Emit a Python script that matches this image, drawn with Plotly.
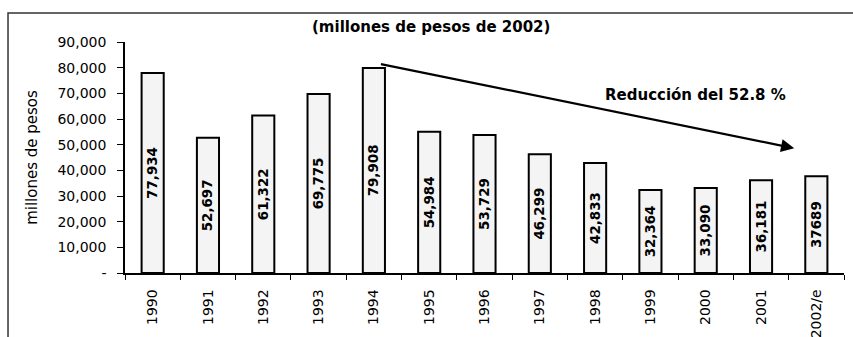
import plotly.graph_objects as go

# Annual spending, millions of 2002 pesos
years = ["1990", "1991", "1992", "1993", "1994", "1995", "1996",
         "1997", "1998", "1999", "2000", "2001", "2002/e"]
values = [77934, 52697, 61322, 69775, 79908, 54984, 53729,
          46299, 42833, 32364, 33090, 36181, 37689]
bar_labels = ["77,934", "52,697", "61,322", "69,775", "79,908", "54,984", "53,729",
              "46,299", "42,833", "32,364", "33,090", "36,181", "37689"]

y_ticks = [0, 10000, 20000, 30000, 40000, 50000, 60000, 70000, 80000, 90000]
y_tick_text = ["-", "10,000", "20,000", "30,000", "40,000", "50,000",
               "60,000", "70,000", "80,000", "90,000"]

FONT = "DejaVu Sans"

fig = go.Figure()
fig.add_trace(go.Bar(
    x=years, y=values,
    text=bar_labels,
    textposition="inside",
    insidetextanchor="middle",
    textangle=-90,
    textfont=dict(family=FONT, size=15, color="black", weight="bold"),
    marker=dict(color="#f4f4f4", line=dict(color="black", width=2)),
    width=0.4,
    cliponaxis=False,
))

# Arrow from the 1994 peak down toward the last year
fig.add_annotation(
    x=11.6, y=48600, ax=4.1, ay=values[4] * 1.02,
    xref="x", yref="y", axref="x", ayref="y",
    showarrow=True, arrowhead=2, arrowsize=1.2, arrowwidth=2.2,
    arrowcolor="black", text="",
)
fig.add_annotation(
    x=0.793, y=0.77, xref="paper", yref="paper",
    xanchor="center", yanchor="middle",
    text="<b>Reducción del 52.8 %</b>", showarrow=False,
    font=dict(family=FONT, size=15, color="black"),
)
fig.add_annotation(
    x=0.425, y=1.065, xref="paper", yref="paper",
    xanchor="center", yanchor="middle",
    text="<b>(millones de pesos de 2002)</b>", showarrow=False,
    font=dict(family=FONT, size=15, color="black"),
)

# Outer frame around the chart (right and bottom edges run past the page)
fig.add_shape(type="rect", xref="paper", yref="paper",
              x0=-0.1627, x1=1.2, y0=-0.35, y1=1.1257,
              line=dict(color="#333333", width=1.5), layer="below")

fig.update_layout(
    width=853, height=337,
    margin=dict(l=125, r=9, t=42, b=64),
    paper_bgcolor="white", plot_bgcolor="white",
    showlegend=False,
    bargap=0.6,
    font=dict(family=FONT, color="black"),
)
fig.update_xaxes(
    type="category",
    automargin=False,
    showline=True, linecolor="black", linewidth=1.5,
    ticks="outside", ticklen=5, tickcolor="black", tickwidth=1.2,
    tickson="boundaries",
    tickangle=-90,
    ticklabelstandoff=9,
    tickfont=dict(family=FONT, size=14, color="black"),
    showgrid=False,
)
fig.update_yaxes(
    range=[0, 90000],
    automargin=False,
    tickvals=y_ticks, ticktext=y_tick_text,
    showline=True, linecolor="black", linewidth=1.5,
    ticks="outside", ticklen=6, tickcolor="black", tickwidth=1.2,
    ticklabelstandoff=8,
    tickfont=dict(family=FONT, size=14, color="black"),
    showgrid=False, zeroline=False,
    title=dict(text="millones de pesos", font=dict(family=FONT, size=15, color="black"),
               standoff=16),
)

fig.write_html("out.html")
